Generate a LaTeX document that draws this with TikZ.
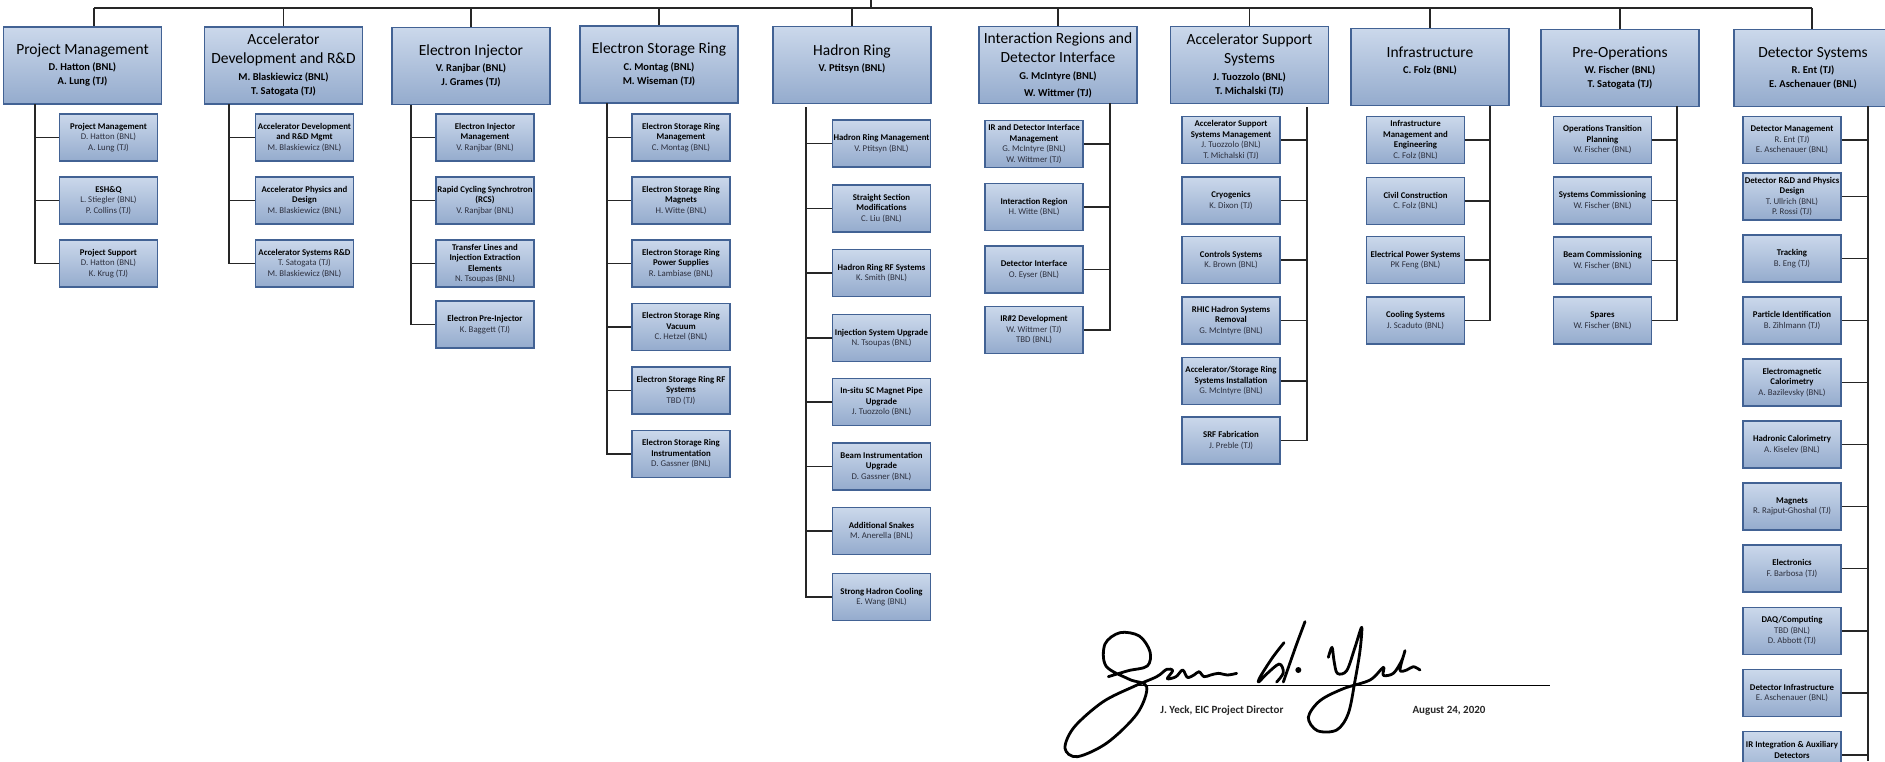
\documentclass[tikz,border=0pt]{standalone}
\usepackage{fontspec}
\setmainfont{Carlito}
\usepackage{tikz}
\usepackage{xcolor}
\definecolor{boxtop}{RGB}{203,216,235}
\definecolor{boxbot}{RGB}{148,171,205}
\definecolor{boxedge}{RGB}{66,98,148}
\definecolor{namegray}{RGB}{45,48,62}
\newcommand{\hdtitle}[1]{{\fontsize{15.5}{17}\selectfont\mdseries #1}}
\newcommand{\who}[1]{{\mdseries\color{namegray}#1}}

\begin{document}
\begin{tikzpicture}[x=1pt,y=-1pt,
  hdrbox/.style={draw=boxedge,line width=1.2pt,top color=boxtop,bottom color=boxbot,
    minimum width=158pt,minimum height=77pt,inner sep=1pt,align=center,
    font=\fontsize{10.5}{14}\selectfont\bfseries},
  subbox/.style={draw=boxedge,line width=1.2pt,top color=boxtop,bottom color=boxbot,
    minimum width=98pt,minimum height=47pt,inner sep=0pt,align=center,
    font=\fontsize{8.8}{10.5}\selectfont\bfseries},
  wire/.style={line width=1.4pt,black!85},
  sigpen/.style={line width=2.8pt,line cap=round,line join=round},
  sigtext/.style={font=\fontsize{11}{13}\selectfont\bfseries,text=black!85}]
\useasboundingbox (0,0) rectangle (1885,761);

\coordinate (busL) at (94,8);
\coordinate (busR) at (1812,8);
\coordinate (dir) at (871,0);

\node[hdrbox] (pm) at (82.5,65.5) {\hdtitle{Project Management}\\[2pt]D. Hatton (BNL)\\A. Lung (TJ)};
\node[hdrbox] (adr) at (283.5,65.5) {\hdtitle{Accelerator}\\[5pt]\hdtitle{Development and R\&D}\\[3pt]M. Blaskiewicz (BNL)\\T. Satogata (TJ)};
\node[hdrbox] (ei) at (471,66) {\hdtitle{Electron Injector}\\[2pt]V. Ranjbar (BNL)\\J. Grames (TJ)};
\node[hdrbox] (esr) at (659,64.5) {\hdtitle{Electron Storage Ring}\\[3pt]C. Montag (BNL)\\M. Wiseman (TJ)};
\node[hdrbox] (hr) at (852,65) {\hdtitle{Hadron Ring}\\[2pt]V. Ptitsyn (BNL)\\\mbox{}};
\node[hdrbox] (ir) at (1058,65) {\hdtitle{Interaction Regions and}\\[5pt]\hdtitle{Detector Interface}\\[3pt]G. McIntyre (BNL)\\[3pt]W. Wittmer (TJ)};
\node[hdrbox] (ass) at (1249.5,65) {\hdtitle{Accelerator Support}\\[5pt]\hdtitle{Systems}\\[3pt]J. Tuozzolo (BNL)\\T. Michalski (TJ)};
\node[hdrbox] (inf) at (1430,67) {\hdtitle{Infrastructure}\\[2pt]C. Folz (BNL)\\\mbox{}};
\node[hdrbox] (pre) at (1620,68) {\hdtitle{Pre-Operations}\\[2pt]W. Fischer (BNL)\\T. Satogata (TJ)};
\node[hdrbox] (det) at (1813,68) {\hdtitle{Detector Systems}\\[2pt]R. Ent (TJ)\\E. Aschenauer (BNL)};

\node[subbox] (pm-a) at (108.5,137.5) {Project Management\\\who{D. Hatton (BNL)}\\\who{A. Lung (TJ)}};
\node[subbox] (pm-b) at (108.5,200.5) {ESH\&Q\\\who{L. Stiegler (BNL)}\\\who{P. Collins (TJ)}};
\node[subbox] (pm-c) at (108.5,263.5) {Project Support\\\who{D. Hatton (BNL)}\\\who{K. Krug (TJ)}};

\node[subbox] (adr-a) at (304.5,137.5) {Accelerator Development\\and R\&D Mgmt\\\who{M. Blaskiewicz (BNL)}};
\node[subbox] (adr-b) at (304.5,200.5) {Accelerator Physics and\\Design\\\who{M. Blaskiewicz (BNL)}};
\node[subbox] (adr-c) at (304.5,263.5) {Accelerator Systems R\&D\\\who{T. Satogata (TJ)}\\\who{M. Blaskiewicz (BNL)}};

\node[subbox] (ei-a) at (485,137.5) {Electron Injector\\Management\\\who{V. Ranjbar (BNL)}};
\node[subbox] (ei-b) at (485,200.5) {Rapid Cycling Synchrotron\\(RCS)\\\who{V. Ranjbar (BNL)}};
\node[subbox] (ei-c) at (485,263.5) {Transfer Lines and\\Injection Extraction\\Elements\\\who{N. Tsoupas (BNL)}};
\node[subbox] (ei-d) at (485,324.5) {Electron Pre-Injector\\\who{K. Baggett (TJ)}};

\node[subbox] (esr-a) at (681,137.5) {Electron Storage Ring\\Management\\\who{C. Montag (BNL)}};
\node[subbox] (esr-b) at (681,200.5) {Electron Storage Ring\\Magnets\\\who{H. Witte (BNL)}};
\node[subbox] (esr-c) at (681,263.5) {Electron Storage Ring\\Power Supplies\\\who{R. Lambiase (BNL)}};
\node[subbox] (esr-d) at (681,327) {Electron Storage Ring\\Vacuum\\\who{C. Hetzel (BNL)}};
\node[subbox] (esr-e) at (681,390.5) {Electron Storage Ring RF\\Systems\\\who{TBD (TJ)}};
\node[subbox] (esr-f) at (681,454) {Electron Storage Ring\\Instrumentation\\\who{D. Gassner (BNL)}};

\node[subbox] (hr-a) at (881.5,143.5) {Hadron Ring Management\\\who{V. Ptitsyn (BNL)}};
\node[subbox] (hr-b) at (881.5,208.5) {Straight Section\\Modifications\\\who{C. Liu (BNL)}};
\node[subbox] (hr-c) at (881.5,273) {Hadron Ring RF Systems\\\who{K. Smith (BNL)}};
\node[subbox] (hr-d) at (881.5,338) {Injection System Upgrade\\\who{N. Tsoupas (BNL)}};
\node[subbox] (hr-e) at (881.5,402) {In-situ SC Magnet Pipe\\Upgrade\\\who{J. Tuozzolo (BNL)}};
\node[subbox] (hr-f) at (881.5,466.5) {Beam Instrumentation\\Upgrade\\\who{D. Gassner (BNL)}};
\node[subbox] (hr-g) at (881.5,531) {Additional Snakes\\\who{M. Anerella (BNL)}};
\node[subbox] (hr-h) at (881.5,597) {Strong Hadron Cooling\\\who{E. Wang (BNL)}};

\node[subbox] (ir-a) at (1034,144) {IR and Detector Interface\\Management\\\who{G. McIntyre (BNL)}\\\who{W. Wittmer (TJ)}};
\node[subbox] (ir-b) at (1034,207) {Interaction Region\\\who{H. Witte (BNL)}};
\node[subbox] (ir-c) at (1034,269.5) {Detector Interface\\\who{O. Eyser (BNL)}};
\node[subbox] (ir-d) at (1034,330) {IR\#2 Development\\\who{W. Wittmer (TJ)}\\\who{TBD (BNL)}};

\node[subbox] (ass-a) at (1231,140) {Accelerator Support\\Systems Management\\\who{J. Tuozzolo (BNL)}\\\who{T. Michalski (TJ)}};
\node[subbox] (ass-b) at (1231,200.5) {Cryogenics\\\who{K. Dixon (TJ)}};
\node[subbox] (ass-c) at (1231,260) {Controls Systems\\\who{K. Brown (BNL)}};
\node[subbox] (ass-d) at (1231,320.5) {RHIC Hadron Systems\\Removal\\\who{G. McIntyre (BNL)}};
\node[subbox] (ass-e) at (1231,381) {Accelerator/Storage Ring\\Systems Installation\\\who{G. McIntyre (BNL)}};
\node[subbox] (ass-f) at (1231,440.5) {SRF Fabrication\\\who{J. Preble (TJ)}};

\node[subbox] (inf-a) at (1415.5,140) {Infrastructure\\Management and\\Engineering\\\who{C. Folz (BNL)}};
\node[subbox] (inf-b) at (1415.5,201) {Civil Construction\\\who{C. Folz (BNL)}};
\node[subbox] (inf-c) at (1415.5,260) {Electrical Power Systems\\\who{PK Feng (BNL)}};
\node[subbox] (inf-d) at (1415.5,320.5) {Cooling Systems\\\who{J. Scaduto (BNL)}};

\node[subbox] (pre-a) at (1602.5,140) {Operations Transition\\Planning\\\who{W. Fischer (BNL)}};
\node[subbox] (pre-b) at (1602.5,200.5) {Systems Commissioning\\\who{W. Fischer (BNL)}};
\node[subbox] (pre-c) at (1602.5,260.5) {Beam Commissioning\\\who{W. Fischer (BNL)}};
\node[subbox] (pre-d) at (1602.5,320.5) {Spares\\\who{W. Fischer (BNL)}};

\node[subbox] (det-a) at (1792,140) {Detector Management\\\who{R. Ent (TJ)}\\\who{E. Aschenauer (BNL)}};
\node[subbox] (det-b) at (1792,196.5) {Detector R\&D and Physics\\Design\\\who{T. Ullrich (BNL)}\\\who{P. Rossi (TJ)}};
\node[subbox] (det-c) at (1792,258.5) {Tracking\\\who{B. Eng (TJ)}};
\node[subbox] (det-d) at (1792,320.5) {Particle Identification\\\who{B. Zihlmann (TJ)}};
\node[subbox] (det-e) at (1792,382.5) {Electromagnetic\\Calorimetry\\\who{A. Bazilevsky (BNL)}};
\node[subbox] (det-f) at (1792,444.5) {Hadronic Calorimetry\\\who{A. Kiselev (BNL)}};
\node[subbox] (det-g) at (1792,506.5) {Magnets\\\who{R. Rajput-Ghoshal (TJ)}};
\node[subbox] (det-h) at (1792,568.5) {Electronics\\\who{F. Barbosa (TJ)}};
\node[subbox] (det-i) at (1792,631) {DAQ/Computing\\\who{TBD (BNL)}\\\who{D. Abbott (TJ)}};
\node[subbox] (det-j) at (1792,693) {Detector Infrastructure\\\who{E. Aschenauer (BNL)}};
\node[subbox] (det-k) at (1792,755) {IR Integration \& Auxiliary\\Detectors\\\mbox{}};

\draw[wire] (busL) -- (busR);
\draw[wire] (dir) -- (dir |- busL);
\draw[wire] (busL) -- (busL |- pm.north);
\draw[wire] (adr.north) -- (adr.north |- busL);
\draw[wire] (ei.north) -- (ei.north |- busL);
\draw[wire] (esr.north) -- (esr.north |- busL);
\draw[wire] (hr.north) -- (hr.north |- busL);
\draw[wire] (ir.north) -- (ir.north |- busL);
\draw[wire] (ass.north) -- (ass.north |- busL);
\draw[wire] (inf.north) -- (inf.north |- busL);
\draw[wire] (pre.north) -- (pre.north |- busL);
\draw[wire] (busR) -- (busR |- det.north);

\coordinate (pm-sp) at (35,104);
\coordinate (adr-sp) at (229,104);
\coordinate (ei-sp) at (411,105);
\coordinate (esr-sp) at (607,103);
\coordinate (hr-sp) at (806,107);
\coordinate (ir-sp) at (1110,103);
\coordinate (ass-sp) at (1307,107);
\coordinate (inf-sp) at (1490,106);
\coordinate (pre-sp) at (1677,106);
\coordinate (det-sp) at (1868,106);
\coordinate (det-end) at (1868,761);

\draw[wire] (pm-sp) |- (pm-a.west);
\draw[wire] (pm-sp) |- (pm-b.west);
\draw[wire] (pm-sp) |- (pm-c.west);
\draw[wire] (adr-sp) |- (adr-a.west);
\draw[wire] (adr-sp) |- (adr-b.west);
\draw[wire] (adr-sp) |- (adr-c.west);
\draw[wire] (ei-sp) |- (ei-a.west);
\draw[wire] (ei-sp) |- (ei-b.west);
\draw[wire] (ei-sp) |- (ei-c.west);
\draw[wire] (ei-sp) |- (ei-d.west);
\draw[wire] (esr-sp) |- (esr-a.west);
\draw[wire] (esr-sp) |- (esr-b.west);
\draw[wire] (esr-sp) |- (esr-c.west);
\draw[wire] (esr-sp) |- (esr-d.west);
\draw[wire] (esr-sp) |- (esr-e.west);
\draw[wire] (esr-sp) |- (esr-f.west);
\draw[wire] (hr-sp) |- (hr-a.west);
\draw[wire] (hr-sp) |- (hr-b.west);
\draw[wire] (hr-sp) |- (hr-c.west);
\draw[wire] (hr-sp) |- (hr-d.west);
\draw[wire] (hr-sp) |- (hr-e.west);
\draw[wire] (hr-sp) |- (hr-f.west);
\draw[wire] (hr-sp) |- (hr-g.west);
\draw[wire] (hr-sp) |- (hr-h.west);
\draw[wire] (ir-sp) |- (ir-a.east);
\draw[wire] (ir-sp) |- (ir-b.east);
\draw[wire] (ir-sp) |- (ir-c.east);
\draw[wire] (ir-sp) |- (ir-d.east);
\draw[wire] (ass-sp) |- (ass-a.east);
\draw[wire] (ass-sp) |- (ass-b.east);
\draw[wire] (ass-sp) |- (ass-c.east);
\draw[wire] (ass-sp) |- (ass-d.east);
\draw[wire] (ass-sp) |- (ass-e.east);
\draw[wire] (ass-sp) |- (ass-f.east);
\draw[wire] (inf-sp) |- (inf-a.east);
\draw[wire] (inf-sp) |- (inf-b.east);
\draw[wire] (inf-sp) |- (inf-c.east);
\draw[wire] (inf-sp) |- (inf-d.east);
\draw[wire] (pre-sp) |- (pre-a.east);
\draw[wire] (pre-sp) |- (pre-b.east);
\draw[wire] (pre-sp) |- (pre-c.east);
\draw[wire] (pre-sp) |- (pre-d.east);
\draw[wire] (det-sp) -- (det-end);
\draw[wire] (det-sp) |- (det-a.east);
\draw[wire] (det-sp) |- (det-b.east);
\draw[wire] (det-sp) |- (det-c.east);
\draw[wire] (det-sp) |- (det-d.east);
\draw[wire] (det-sp) |- (det-e.east);
\draw[wire] (det-sp) |- (det-f.east);
\draw[wire] (det-sp) |- (det-g.east);
\draw[wire] (det-sp) |- (det-h.east);
\draw[wire] (det-sp) |- (det-i.east);
\draw[wire] (det-sp) |- (det-j.east);
\draw[wire] (det-sp) |- (det-k.east);

\coordinate (sigL) at (1137,685);
\coordinate (sigR) at (1550,685);
\draw[line width=1pt] (sigL) -- (sigR);
\node[sigtext] (signer) at (1222,711) {J. Yeck, EIC Project Director};
\node[sigtext] (sigdate) at (1449,711) {August 24, 2020};
\begin{scope}[shift={(1050,620)},scale=1/3]
\draw[sigpen] plot[smooth,tension=.55] coordinates {(175,170) (235,152) (292,138) (300,95) (268,48) (210,38) (165,72) (168,138) (238,178) (290,200) (262,280) (172,368) (82,410) (45,385) (72,322) (158,246) (250,200) (320,170) (350,148) (368,152) (352,176) (378,170) (398,150) (412,172) (432,165) (447,155) (462,170) (482,165) (505,160) (532,165) (560,160)};
\draw[sigpen] plot[smooth,tension=.55] coordinates {(702,68) (668,112) (632,168) (626,186) (652,160) (688,132) (700,158) (680,186)};
\draw[sigpen] plot[smooth,tension=.55] coordinates {(765,5) (740,72) (716,140) (700,186)};
\fill (745,150) circle (9);
\draw[sigpen] plot[smooth,tension=.55] coordinates {(835,112) (846,82) (852,122) (862,160) (890,152) (915,82) (935,22) (930,92) (915,182) (895,280) (860,330) (802,332) (775,292) (810,242) (880,206) (960,180) (1000,142) (1000,166) (1030,160) (1055,122) (1065,92) (1050,150) (1070,150) (1090,140) (1110,150)};
\end{scope}
\end{tikzpicture}
\end{document}
